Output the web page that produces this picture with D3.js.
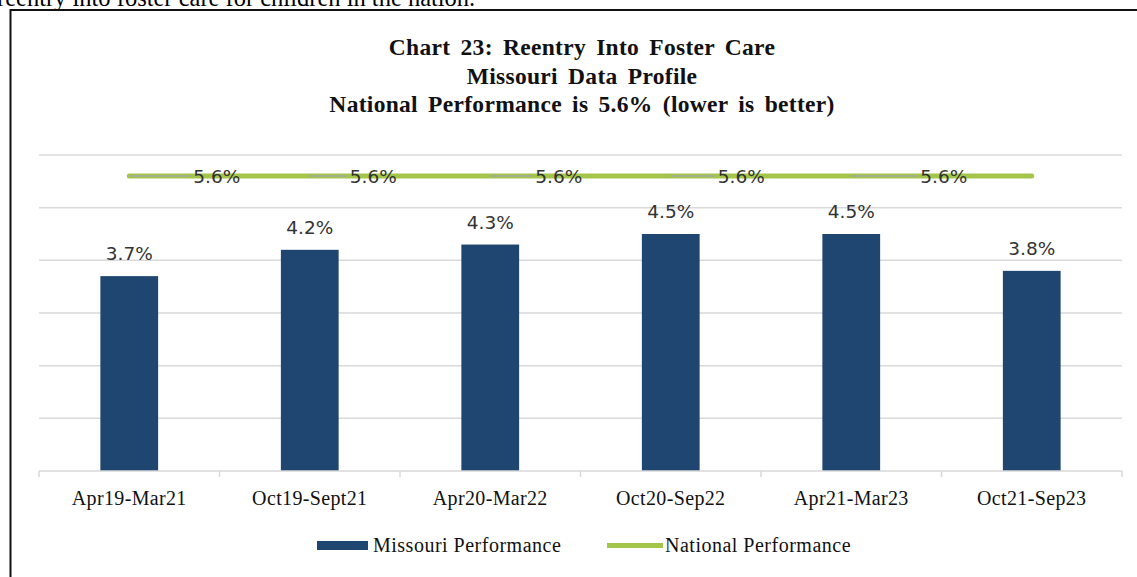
<!DOCTYPE html>
<html>
<head>
<meta charset="utf-8">
<script src="https://cdn.jsdelivr.net/npm/d3@7"></script>
<style>
  body { margin: 0; background: #fff; }
  svg { display: block; }
</style>
</head>
<body>
<div id="chart"></div>
<script>
// chart data
const periods = ['Apr19-Mar21', 'Oct19-Sept21', 'Apr20-Mar22', 'Oct20-Sep22', 'Apr21-Mar23', 'Oct21-Sep23'];
const missouri = [3.7, 4.2, 4.3, 4.5, 4.5, 3.8];
const national = [5.6, 5.6, 5.6, 5.6, 5.6, 5.6];
const yTicks = [0, 1, 2, 3, 4, 5, 6];
const titleLines = ['Chart 23: Reentry Into Foster Care', 'Missouri Data Profile', 'National Performance is 5.6% (lower is better)'];

// where Excel dropped the national data labels (px right of the point)
const natLabelShift = [64, 40, 45, 47, 69];

const W = 1137, H = 577;
const plot = { left: 39, right: 1122, top: 155, bottom: 471 };
const serif = '"Liberation Serif", "Times New Roman", serif';
const sans = '"DejaVu Sans", Verdana, sans-serif';

const svg = d3.select('#chart').append('svg')
  .attr('width', W)
  .attr('height', H);

// bit of the report text above the chart box
svg.append('text')
  .attr('x', -3)
  .attr('y', 6)
  .attr('font-family', serif)
  .attr('font-size', 24.5)
  .attr('fill', '#000')
  .text('reentry into foster care for children in the nation.');

// chart box border
svg.append('rect')
  .attr('x', 10.5)
  .attr('y', 10)
  .attr('width', W + 20)
  .attr('height', H + 20)
  .attr('fill', 'none')
  .attr('stroke', '#111')
  .attr('stroke-width', 2);

// title
svg.append('g')
  .selectAll('text')
  .data(titleLines)
  .enter().append('text')
  .attr('x', 582)
  .attr('y', (d, i) => 55 + i * 28.5)
  .attr('text-anchor', 'middle')
  .style('font-family', serif)
  .attr('font-weight', 'bold')
  .attr('font-size', 23.5)
  .attr('letter-spacing', 0.3)
  .attr('word-spacing', 4)
  .attr('fill', '#111')
  .text(d => d);

const x = d3.scaleBand()
  .domain(periods)
  .range([plot.left, plot.right])
  .padding(0);

const y = d3.scaleLinear()
  .domain([0, 6])
  .range([plot.bottom, plot.top]);

// gridlines
svg.append('g')
  .selectAll('line')
  .data(yTicks.slice(1))
  .enter().append('line')
  .attr('x1', plot.left)
  .attr('x2', plot.right)
  .attr('y1', d => y(d))
  .attr('y2', d => y(d))
  .attr('stroke', '#d9d9d9')
  .attr('stroke-width', 1.5);

// bars
const barW = x.bandwidth() * 0.32;
svg.append('g')
  .selectAll('rect')
  .data(missouri)
  .enter().append('rect')
  .attr('x', (d, i) => x(periods[i]) + (x.bandwidth() - barW) / 2)
  .attr('y', d => y(d))
  .attr('width', barW)
  .attr('height', d => y(0) - y(d))
  .attr('fill', '#1f4670');

// x axis
const xAxis = svg.append('g')
  .attr('transform', `translate(0,${plot.bottom})`)
  .call(d3.axisBottom(x).tickSize(0).tickFormat(d => d));
xAxis.select('.domain').remove();
xAxis.selectAll('text')
  .attr('dy', null)
  .attr('y', 34)
  .attr('font-family', serif)
  .attr('font-size', 20)
  .attr('letter-spacing', 0.35)
  .attr('fill', '#111');

svg.append('line')
  .attr('x1', plot.left)
  .attr('x2', plot.right)
  .attr('y1', plot.bottom)
  .attr('y2', plot.bottom)
  .attr('stroke', '#d9d9d9')
  .attr('stroke-width', 1.5);

// category boundary ticks
svg.append('g')
  .selectAll('line')
  .data(periods.concat(['end']))
  .enter().append('line')
  .attr('x1', (d, i) => plot.left + i * x.step())
  .attr('x2', (d, i) => plot.left + i * x.step())
  .attr('y1', plot.bottom)
  .attr('y2', plot.bottom + 6)
  .attr('stroke', '#d9d9d9')
  .attr('stroke-width', 1.5);

// bar value labels
svg.append('g')
  .selectAll('text')
  .data(missouri)
  .enter().append('text')
  .attr('x', (d, i) => x(periods[i]) + x.bandwidth() / 2)
  .attr('y', d => y(d) - 16)
  .attr('text-anchor', 'middle')
  .attr('font-family', sans)
  .attr('font-size', 18.5)
  .attr('fill', '#333')
  .text(d => d.toFixed(1) + '%');

// national performance line
const cx = (d, i) => x(periods[i]) + x.bandwidth() / 2;
const line = d3.line()
  .x(cx)
  .y(d => y(d));

svg.append('path')
  .datum(national)
  .attr('d', line)
  .attr('fill', 'none')
  .attr('stroke', '#a3c64a')
  .attr('stroke-width', 5)
  .attr('stroke-linecap', 'round');

// leader lines + labels for the national line
const natLabels = national.slice(0, natLabelShift.length);
svg.append('g')
  .selectAll('line')
  .data(natLabels)
  .enter().append('line')
  .attr('x1', cx)
  .attr('x2', (d, i) => cx(d, i) + natLabelShift[i] - 3)
  .attr('y1', d => y(d))
  .attr('y2', d => y(d))
  .attr('stroke', '#a6a6a6')
  .attr('stroke-width', 1.5);

svg.append('g')
  .selectAll('text')
  .data(natLabels)
  .enter().append('text')
  .attr('x', (d, i) => cx(d, i) + natLabelShift[i])
  .attr('y', d => y(d) + 7)
  .attr('font-family', sans)
  .attr('font-size', 18.5)
  .attr('fill', '#333')
  .text(d => d.toFixed(1) + '%');

// legend
const legend = svg.append('g');
legend.append('rect')
  .attr('x', 317)
  .attr('y', 541)
  .attr('width', 51)
  .attr('height', 9)
  .attr('fill', '#1f4670');
legend.append('text')
  .attr('x', 373)
  .attr('y', 552)
  .style('font-family', serif)
  .attr('font-size', 20)
  .attr('letter-spacing', 0.5)
  .attr('fill', '#111')
  .text('Missouri Performance');
legend.append('line')
  .attr('x1', 607)
  .attr('x2', 663)
  .attr('y1', 545.5)
  .attr('y2', 545.5)
  .attr('stroke', '#a3c64a')
  .attr('stroke-width', 5);
legend.append('text')
  .attr('x', 665)
  .attr('y', 552)
  .style('font-family', serif)
  .attr('font-size', 20)
  .attr('letter-spacing', 0.5)
  .attr('fill', '#111')
  .text('National Performance');
</script>
</body>
</html>
